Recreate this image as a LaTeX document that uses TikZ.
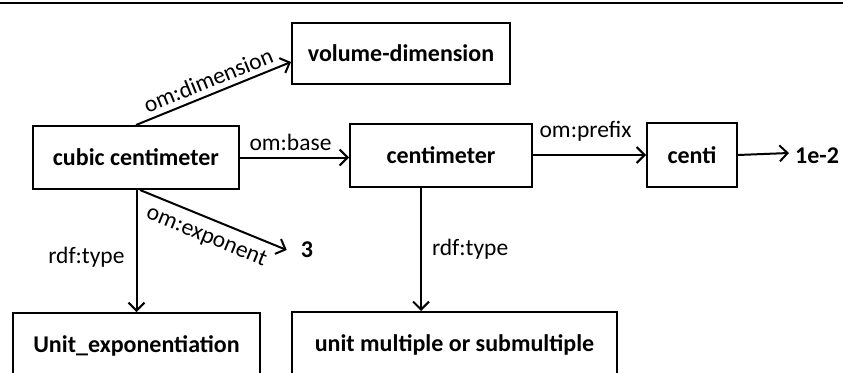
\documentclass[tikz,border=0pt]{standalone}
\usepackage{fontspec}
\setmainfont{Carlito}
\usetikzlibrary{arrows.meta}
\tikzset{
  box/.style={draw, line width=2pt, rectangle, inner sep=0pt, font=\fontsize{24}{28}\selectfont\bfseries},
  val/.style={inner sep=0pt, font=\fontsize{24}{28}\selectfont\bfseries},
  lbl/.style={inner sep=1pt, font=\fontsize{23.5}{27}\selectfont},
  arr/.style={line width=2pt, -{Straight Barb[length=8pt,width=16pt,line width=2pt]}}
}
\begin{document}
\begin{tikzpicture}[x=1pt,y=-1pt]
\useasboundingbox (0,0) rectangle (843,372);
\draw[line width=2.5pt] (0,3) -- (843,3);
\node[box, minimum width=218pt, minimum height=61pt] (vol) at (401,53.5) {volume-dimension};
\node[box, minimum width=206pt, minimum height=63pt] (cubic) at (136,157.5) {cubic centimeter};
\node[box, minimum width=182pt, minimum height=63pt] (cm) at (441,155) {centimeter};
\node[box, minimum width=90pt, minimum height=64pt] (centi) at (692,155) {centi};
\node[val, anchor=west] (one) at (795,156) {1e-2};
\node[val] (three) at (307,250) {3};
\node[box, minimum width=247pt, minimum height=66pt] (uexp) at (136.5,346) {Unit\_exponentiation};
\node[box, minimum width=325pt, minimum height=66pt] (umult) at (454.5,345) {unit multiple or submultiple};
\draw[arr] (cubic.north) -- ([yshift=-8.5pt]vol.west)
  node[lbl, midway, sloped, above=4pt] {om:dimension};
\draw[arr] (cubic.east) -- (cubic.east -| cm.west)
  node[lbl, midway, above=5pt, xshift=-4pt] {om:base};
\draw[arr] (cm.east) -- (cm.east -| centi.west)
  node[lbl, midway, above=12pt, xshift=-4pt] {om:prefix};
\draw[arr] (centi.east) -- ([xshift=-6pt,yshift=3pt]one.west);
\draw[arr] ([xshift=4pt]cubic.south) -- ([xshift=-14pt]three.west)
  node[lbl, midway, sloped, below=7pt] {om:exponent};
\draw[arr] (cubic.south -| uexp.north) -- (uexp.north)
  node[lbl, pos=0.55, left=10pt] {rdf:type};
\draw[arr] ([xshift=-20pt]cm.south) -- ([xshift=-20pt]cm.south |- umult.north)
  node[lbl, pos=0.5, right=9pt] {rdf:type};
\end{tikzpicture}
\end{document}
